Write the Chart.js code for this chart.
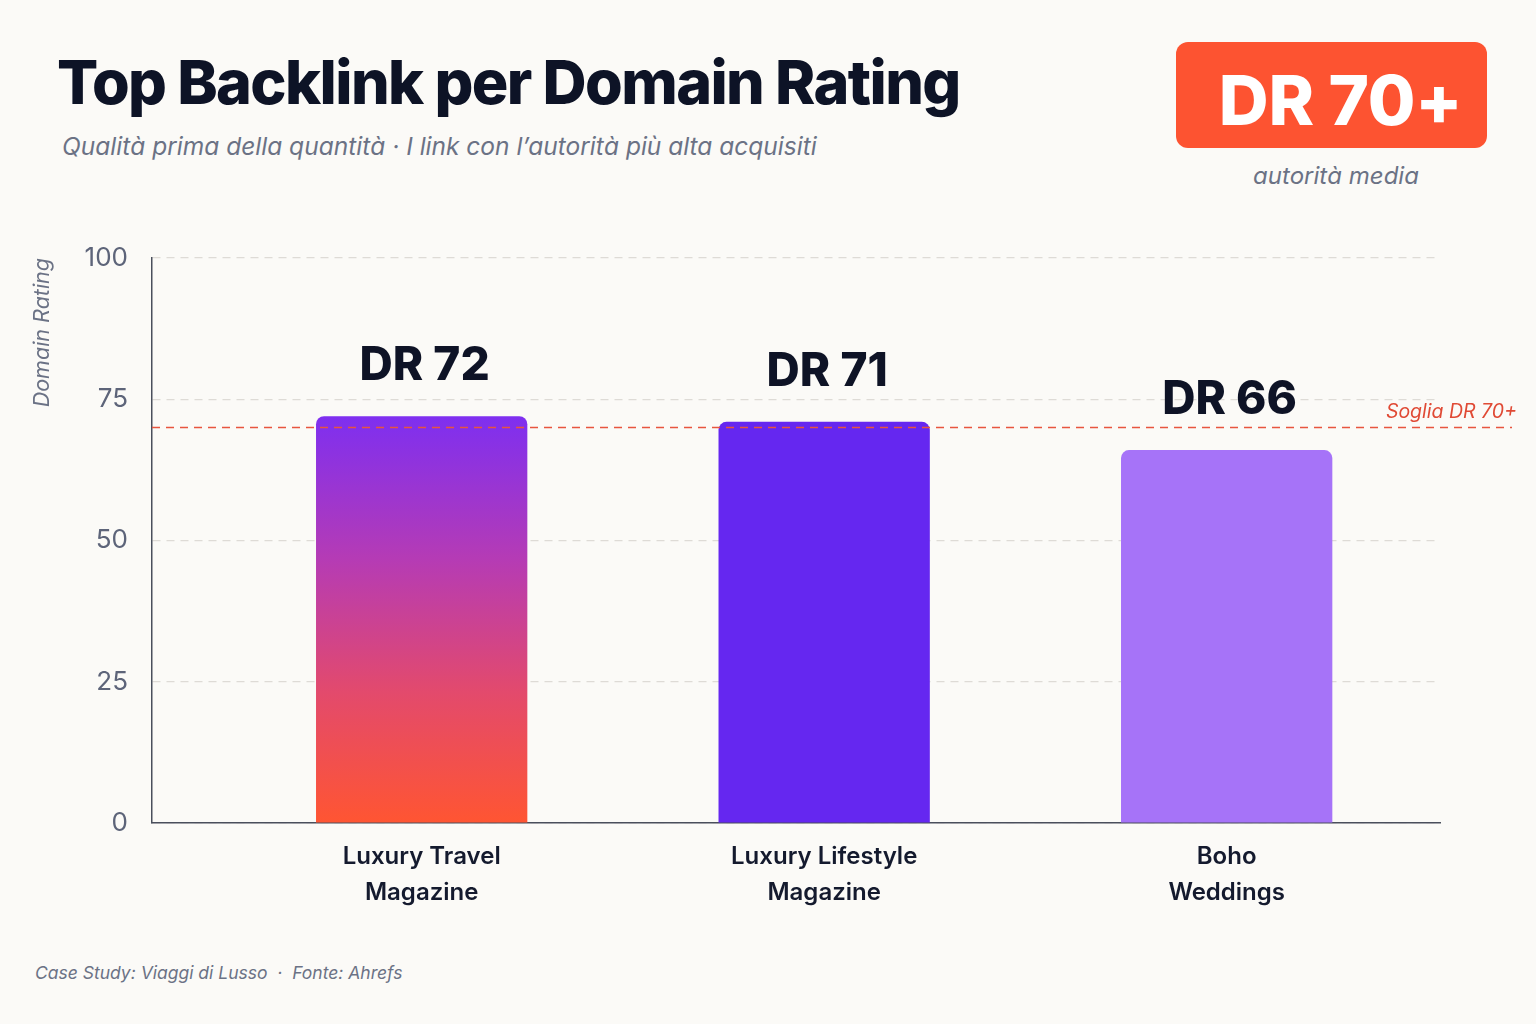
<!DOCTYPE html>
<html>
<head>
<meta charset="utf-8">
<script src="https://cdn.jsdelivr.net/npm/chart.js@4"></script>
<style>
  html, body { margin: 0; padding: 0; }
  body {
    width: 1536px; height: 1024px; position: relative; overflow: hidden;
    background: #fbfaf7; font-family: 'Inter', sans-serif;
  }
  .title {
    position: absolute; left: 57px; top: 52px;
    font-size: 61px; line-height: 1; font-weight: 800; color: #0d1326;
    letter-spacing: -1.6px; white-space: nowrap;
  }
  .subtitle {
    position: absolute; left: 62px; top: 134px;
    font-size: 24.5px; line-height: 1; font-style: italic; color: #6b7285;
    white-space: nowrap;
  }
  .badge {
    position: absolute; left: 1176px; top: 42px; width: 311px; height: 106px;
    box-sizing: border-box; padding-top: 10px; padding-left: 18px;
    background: #fd5331; border-radius: 12px;
    display: flex; align-items: center; justify-content: center;
    color: #fff; font-size: 69px; line-height: 1; font-weight: 800; letter-spacing: -0.3px;
  }
  .badge-sub {
    position: absolute; left: 1176px; width: 320px; top: 164px; text-align: center;
    font-size: 24px; line-height: 1; font-style: italic; color: #6b7285;
  }
  .footer {
    position: absolute; left: 35px; top: 964px;
    font-size: 17.5px; line-height: 1; font-style: italic; color: #6b7285;
    white-space: nowrap;
  }
  .chart-box { position: absolute; left: 0; top: 230px; width: 1536px; height: 700px; }
</style>
</head>
<body>
<div class="title">Top Backlink per Domain Rating</div>
<div class="subtitle">Qualità prima della quantità · I link con l’autorità più alta acquisiti</div>
<div class="badge">DR 70+</div>
<div class="badge-sub">autorità media</div>
<div class="chart-box"><canvas id="chart"></canvas></div>
<div class="footer">Case Study: Viaggi di Lusso &nbsp;·&nbsp; Fonte: Ahrefs</div>

<script>
const categories = [['Luxury Travel', 'Magazine'], ['Luxury Lifestyle', 'Magazine'], ['Boho', 'Weddings']];
const ratings = [72, 71, 66];
const valueLabels = ['DR 72', 'DR 71', 'DR 66'];
const yTicks = [0, 25, 50, 75, 100];
const threshold = 70;
const thresholdLabel = 'Soglia DR 70+';

const barColors = [null, '#6527f0', '#a673f8'];

function barColor(ctx) {
    const i = ctx.dataIndex;
    if (i !== 0) return barColors[i];
    const chart = ctx.chart;
    const y = chart.scales && chart.scales.y;
    if (!chart.chartArea || !y) return '#b33bba';
    const top = y.getPixelForValue(ratings[0]);
    const bottom = y.getPixelForValue(0);
    const g = chart.ctx.createLinearGradient(0, top, 0, bottom);
    g.addColorStop(0, '#7e2ff0');
    g.addColorStop(0.35, '#b53bb5');
    g.addColorStop(0.68, '#e34a6c');
    g.addColorStop(1, '#ff5532');
    return g;
}

// dashed threshold line + DR labels over the bars
const overlayPlugin = {
    id: 'overlay',
    afterDatasetsDraw(chart) {
        const { ctx, chartArea, scales } = chart;
        const ty = scales.y.getPixelForValue(threshold);
        ctx.save();
        ctx.strokeStyle = '#e8553f';
        ctx.lineWidth = 1.6;
        ctx.setLineDash([8, 6]);
        ctx.beginPath();
        ctx.moveTo(chartArea.left, ty);
        ctx.lineTo(1512, ty);
        ctx.stroke();
        ctx.setLineDash([]);
        ctx.fillStyle = '#e04a35';
        ctx.font = 'italic 19.5px Inter';
        ctx.textAlign = 'right';
        ctx.textBaseline = 'alphabetic';
        ctx.fillText(thresholdLabel, 1517, ty - 10);

        const meta = chart.getDatasetMeta(0);
        ctx.fillStyle = '#0e1326';
        ctx.font = '800 46px Inter';
        ctx.textAlign = 'center';
        ctx.textBaseline = 'middle';
        meta.data.forEach((bar, i) => {
            ctx.fillText(valueLabels[i], bar.x + 3, bar.y - 50);
        });
        ctx.restore();
    }
};

new Chart(document.getElementById('chart'), {
    type: 'bar',
    data: {
        datasets: [{
            data: ratings.map((v, i) => ({ x: i, y: v })),
            backgroundColor: barColor,
            borderRadius: 8,
            categoryPercentage: 1,
            barPercentage: 0.525
        }]
    },
    options: {
        responsive: true,
        maintainAspectRatio: false,
        animation: false,
        layout: { padding: { top: 28, right: 96, left: 0, bottom: 0 } },
        plugins: { legend: { display: false }, tooltip: { enabled: false } },
        scales: {
            x: {
                type: 'linear',
                min: -0.67,
                max: 2.53,
                offset: false,
                grid: { display: false, offset: false },
                border: { display: true, color: '#4a4f5c', width: 1.5 },
                afterBuildTicks: axis => { axis.ticks = categories.map((c, i) => ({ value: i })); },
                afterFit: axis => { axis.height = 107; },
                ticks: {
                    autoSkip: false,
                    maxRotation: 0,
                    padding: 8,
                    color: '#141a2e',
                    font: { family: 'Inter', size: 24, weight: '600', lineHeight: 1.5 },
                    callback: v => categories[v]
                }
            },
            y: {
                min: 0,
                max: 100,
                afterBuildTicks: axis => { axis.ticks = yTicks.map(v => ({ value: v })); },
                afterFit: axis => { axis.width = 152; axis.paddingTop = 0; axis.paddingBottom = 0; },
                grid: { color: '#dedbd6', lineWidth: 1.2, drawTicks: false },
                border: { display: true, color: '#4a4f5c', width: 1.5, dash: [8, 6] },
                ticks: {
                    padding: 24,
                    color: '#5d6479',
                    font: { family: 'Inter', size: 26 }
                },
                title: {
                    display: true,
                    text: 'Domain Rating',
                    align: 'end',
                    color: '#6b7285',
                    padding: { top: 30, bottom: 0 },
                    font: { family: 'Inter', size: 21.5, style: 'italic' }
                }
            }
        }
    },
    plugins: [overlayPlugin]
});
</script>
</body>
</html>
